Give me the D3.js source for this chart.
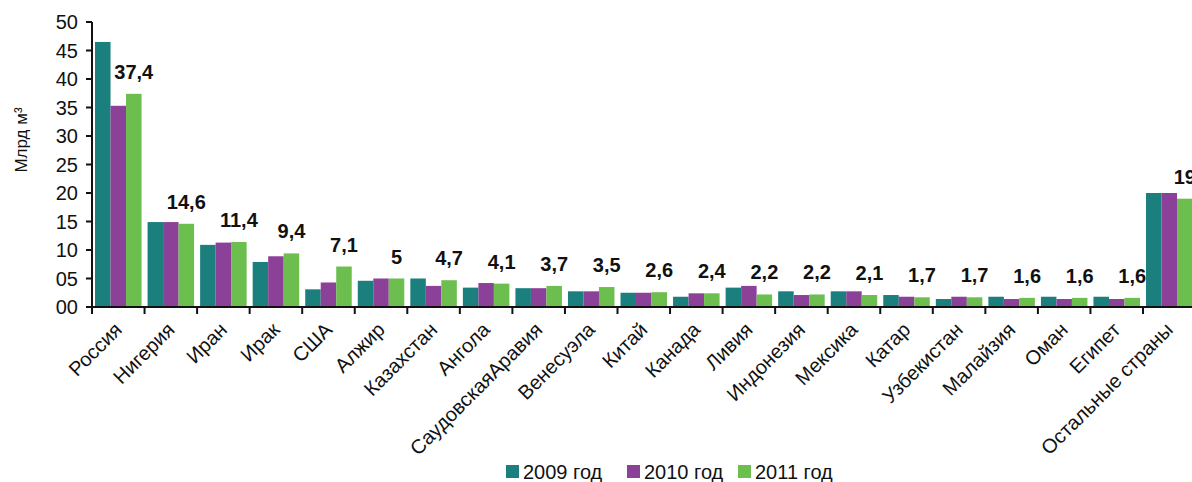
<!DOCTYPE html>
<html>
<head>
<meta charset="utf-8">
<script src="https://cdn.jsdelivr.net/npm/d3@7"></script>
<style>
  html, body { margin: 0; padding: 0; background: #fff; }
  svg { display: block; font-family: "Liberation Sans", Arial, sans-serif; }
</style>
</head>
<body>
<svg id="chart" width="1192" height="482"></svg>
<script>
// Natural gas exports by country, billion m³
const categories = ["Россия", "Нигерия", "Иран", "Ирак", "США", "Алжир", "Казахстан", "Ангола",
  "СаудовскаяАравия", "Венесуэла", "Китай", "Канада", "Ливия", "Индонезия", "Мексика", "Катар",
  "Узбекистан", "Малайзия", "Оман", "Египет", "Остальные страны"];
const years = ["2009 год", "2010 год", "2011 год"];
const values2009 = [46.5, 14.9, 10.9, 7.9, 3.1, 4.6, 5.0, 3.4, 3.3, 2.75, 2.5, 1.8, 3.4, 2.75, 2.75, 2.1, 1.4, 1.8, 1.8, 1.8, 20.0];
const values2010 = [35.3, 14.9, 11.3, 8.9, 4.3, 5.0, 3.7, 4.2, 3.3, 2.75, 2.5, 2.4, 3.7, 2.1, 2.75, 1.8, 1.8, 1.4, 1.4, 1.4, 20.0];
const values2011 = [37.4, 14.6, 11.4, 9.4, 7.1, 5, 4.7, 4.1, 3.7, 3.5, 2.6, 2.4, 2.2, 2.2, 2.1, 1.7, 1.7, 1.6, 1.6, 1.6, 19];
const yTicks = [0, 5, 10, 15, 20, 25, 30, 35, 40, 45, 50];
const colors = ["#1b7f7d", "#8b4197", "#6cbe4f"];

const series = [values2009, values2010, values2011];
const rows = categories.map((c, i) => ({ name: c, vals: series.map(s => s[i]) }));

const svg = d3.select("#chart");
const plotLeft = 92, plotTop = 22, plotBottom = 307, step = 52.55;

const x0 = d3.scaleBand()
  .domain(categories)
  .range([plotLeft, plotLeft + step * categories.length])
  .paddingInner(0.115)
  .paddingOuter(0.0575);
const x1 = d3.scaleBand().domain(d3.range(3)).range([0, x0.bandwidth()]);
const y = d3.scaleLinear().domain([0, 50]).range([plotBottom, plotTop]);

// bars
const groups = svg.append("g").selectAll("g").data(rows).join("g")
  .attr("transform", d => `translate(${x0(d.name)},0)`);
groups.selectAll("rect").data(d => d.vals).join("rect")
  .attr("x", (v, j) => x1(j))
  .attr("width", x1.bandwidth())
  .attr("y", v => y(v))
  .attr("height", v => plotBottom - y(v))
  .attr("fill", (v, j) => colors[j]);

// value labels above the 2011 bars
const fmt = v => String(v).replace(".", ",");
svg.append("g").selectAll("text").data(rows).join("text")
  .attr("x", d => x0(d.name) + x1(2) + x1.bandwidth() / 2)
  .attr("y", d => y(d.vals[2]) - 15)
  .attr("text-anchor", "middle")
  .attr("font-size", 20)
  .attr("font-weight", "bold")
  .attr("fill", "#111")
  .text(d => fmt(d.vals[2]));

// y axis
const yAxis = svg.append("g");
yAxis.append("line").attr("x1", plotLeft).attr("x2", plotLeft).attr("y1", y(50)).attr("y2", plotBottom)
  .attr("stroke", "#111").attr("stroke-width", 2);
yAxis.selectAll("line.t").data(yTicks).join("line").attr("class", "t")
  .attr("x1", plotLeft - 6).attr("x2", plotLeft).attr("y1", d => y(d)).attr("y2", d => y(d))
  .attr("stroke", "#111").attr("stroke-width", 2);
yAxis.selectAll("text").data(yTicks).join("text")
  .attr("x", 78).attr("y", d => y(d)).attr("dy", "0.36em")
  .attr("text-anchor", "end").attr("font-size", 20).attr("fill", "#111")
  .text(d => d3.format("02d")(d));

svg.append("text")
  .attr("transform", "translate(27,140) rotate(-90)")
  .attr("text-anchor", "middle").attr("font-size", 17).attr("fill", "#111")
  .text("Млрд м³");

// x axis
const xAxis = svg.append("g");
xAxis.append("line").attr("x1", plotLeft).attr("x2", 1192).attr("y1", plotBottom).attr("y2", plotBottom)
  .attr("stroke", "#111").attr("stroke-width", 2);
xAxis.selectAll("line.t").data(d3.range(categories.length + 1)).join("line").attr("class", "t")
  .attr("x1", i => plotLeft + i * x0.step()).attr("x2", i => plotLeft + i * x0.step())
  .attr("y1", plotBottom).attr("y2", plotBottom + 7)
  .attr("stroke", "#111").attr("stroke-width", 2);
xAxis.selectAll("text").data(categories).join("text")
  .attr("transform", d => `translate(${x0(d) + x0.bandwidth() / 2 + 5},331) rotate(-45)`)
  .attr("text-anchor", "end").attr("font-size", 20).attr("fill", "#111")
  .text(d => d);

// legend
const legendX = [506, 627, 738];
const legend = svg.append("g").selectAll("g").data(years).join("g")
  .attr("transform", (d, i) => `translate(${legendX[i]},0)`);
legend.append("rect").attr("x", 0).attr("y", 465).attr("width", 13).attr("height", 13)
  .attr("fill", (d, i) => colors[i]);
legend.append("text").attr("x", 17).attr("y", 479).attr("font-size", 20).attr("fill", "#111")
  .text(d => d);
</script>
</body>
</html>
